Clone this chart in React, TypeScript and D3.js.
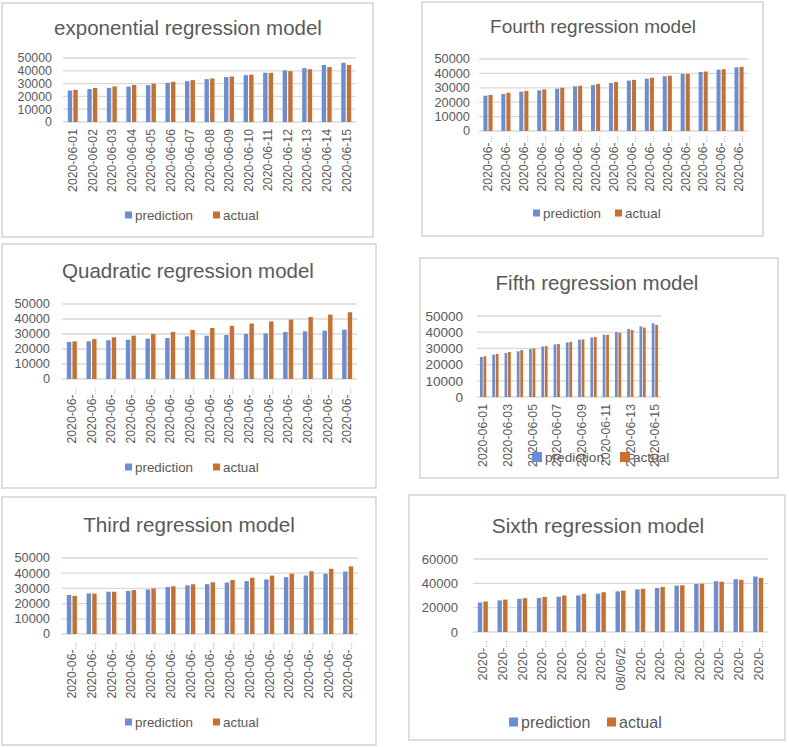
import React from "react";
import * as d3 from "d3";

const dates = [
  "2020-06-01", "2020-06-02", "2020-06-03", "2020-06-04", "2020-06-05",
  "2020-06-06", "2020-06-07", "2020-06-08", "2020-06-09", "2020-06-10",
  "2020-06-11", "2020-06-12", "2020-06-13", "2020-06-14", "2020-06-15",
];
const actual = [25100, 26600, 27800, 28900, 30000, 31400, 32700, 34000, 35500, 37000, 38400, 39700, 41300, 42900, 44500];
const expPred = [24600, 25700, 26700, 27700, 28800, 30600, 31900, 33500, 35100, 36600, 38500, 40300, 42100, 44500, 46300];
const fourthPred = [24500, 25700, 27300, 28200, 29400, 31000, 31900, 33300, 35000, 36300, 38000, 39600, 41000, 42600, 44200];
const quadPred = [24700, 25100, 25800, 26200, 26900, 27300, 28400, 28900, 29300, 30000, 30400, 31300, 31800, 32200, 32900];
const fifthPred = [24700, 26100, 27200, 28200, 29600, 31100, 32500, 33700, 35400, 36800, 38500, 40100, 42000, 43600, 45500];
const thirdPred = [25700, 26700, 27800, 28300, 29300, 30900, 32000, 32800, 33900, 34800, 35900, 37400, 38500, 39600, 41100];
const sixthPred = [24300, 26000, 27300, 27900, 29000, 30100, 31500, 33400, 35100, 36200, 38100, 39500, 41700, 43400, 45600];

const ticks50 = [0, 10000, 20000, 30000, 40000, 50000];
const ticks60 = [0, 20000, 40000, 60000];
const seriesNames = ["prediction", "actual"];
const titles = [
  "exponential regression model",
  "Fourth regression model",
  "Quadratic regression model",
  "Fifth regression model",
  "Third regression model",
  "Sixth regression model",
];
const fullLabels = dates;
const truncLabels = dates.map(() => "2020-06-…");
const fifthLabels = dates.map((d, i) => (i % 2 === 0 ? d : ""));
const sixthLabels = dates.map((d, i) => (i === 7 ? "08/06/2…" : "2020-…"));

const BLUE = "#6a8ed3";
const ORANGE = "#c9702f";
const TEXT = "#595959";
const GRID = "#d9d9d9";
const FONT = "'Liberation Sans', Arial, sans-serif";

type Cfg = {
  border: [number, number, number, number];
  title: string;
  titleX: number;
  titleY: number;
  titleSize: number;
  left: number;
  right: number;
  top: number;
  bottom: number;
  yTicks: number[];
  yLabelRight: number;
  yLabelSize: number;
  pred: number[];
  act: number[];
  labels: string[];
  labelTop: number;
  labelSize: number;
  legendY: number;
  legendX: [number, number];
  legendSq: number;
  legendSize: number;
};

function Panel({ c }: { c: Cfg }) {
  const x = d3.scaleBand<string>().domain(dates).range([c.left, c.right]).padding(0);
  const yMax = c.yTicks[c.yTicks.length - 1];
  const y = d3.scaleLinear().domain([0, yMax]).range([c.bottom, c.top]);
  const bw = x.bandwidth() / 4.46;
  const gap = bw * 0.27;
  const [bx, by, bwid, bh] = c.border;
  return (
    <g>
      <rect x={bx} y={by} width={bwid} height={bh} fill="#fff" stroke="#d3d3d3" strokeWidth={1.5} />
      <text x={c.titleX} y={c.titleY} textAnchor="middle" fontSize={c.titleSize} fill={TEXT} fontFamily={FONT}>
        {c.title}
      </text>
      {c.yTicks.map((t) => (
        <g key={t}>
          <line x1={c.left} x2={c.right} y1={y(t)} y2={y(t)} stroke={GRID} strokeWidth={1.3} />
          <text x={c.yLabelRight} y={y(t)} dy="0.35em" textAnchor="end" fontSize={c.yLabelSize} fill={TEXT} fontFamily={FONT}>
            {t}
          </text>
        </g>
      ))}
      {dates.map((d, i) => {
        const cx = (x(d) as number) + x.bandwidth() / 2;
        return (
          <g key={d}>
            <rect x={cx - gap / 2 - bw} y={y(c.pred[i])} width={bw} height={y(0) - y(c.pred[i])} fill={BLUE} />
            <rect x={cx + gap / 2} y={y(c.act[i])} width={bw} height={y(0) - y(c.act[i])} fill={ORANGE} />
          </g>
        );
      })}
      {dates.map((d, i) => {
        const cx = (x(d) as number) + x.bandwidth() / 2;
        const lab = c.labels[i];
        if (!lab) return null;
        const trunc = lab.endsWith("…");
        const base = trunc ? lab.slice(0, -1) : lab;
        return (
          <text
            key={"l" + d}
            transform={`translate(${cx},${c.labelTop}) rotate(-90)`}
            dy="0.35em"
            textAnchor="end"
            fontSize={c.labelSize}
            fill={TEXT}
            fontFamily={FONT}
          >
            {base}
            {trunc ? <tspan fontSize={c.labelSize * 0.6}>…</tspan> : null}
          </text>
        );
      })}
      {seriesNames.map((s, k) => (
        <g key={s}>
          <rect
            x={c.legendX[k]}
            y={c.legendY - c.legendSq / 2}
            width={c.legendSq}
            height={c.legendSq}
            fill={k === 0 ? BLUE : ORANGE}
          />
          <text
            x={c.legendX[k] + c.legendSq + 3}
            y={c.legendY}
            dy="0.35em"
            fontSize={c.legendSize}
            fill={TEXT}
            fontFamily={FONT}
          >
            {s}
          </text>
        </g>
      ))}
    </g>
  );
}

const panels: Cfg[] = [
  {
    border: [2, 3, 371, 234], title: titles[0], titleX: 188, titleY: 35, titleSize: 20.5,
    left: 63, right: 356, top: 58, bottom: 122, yTicks: ticks50, yLabelRight: 52, yLabelSize: 12.4,
    pred: expPred, act: actual, labels: fullLabels, labelTop: 129, labelSize: 12.3,
    legendY: 215, legendX: [125, 213], legendSq: 7, legendSize: 13.4,
  },
  {
    border: [422, 2, 341, 234], title: titles[1], titleX: 593, titleY: 33, titleSize: 19,
    left: 479, right: 748, top: 59, bottom: 131, yTicks: ticks50, yLabelRight: 470, yLabelSize: 12.8,
    pred: fourthPred, act: actual, labels: truncLabels, labelTop: 135, labelSize: 12.3,
    legendY: 213, legendX: [533, 615], legendSq: 7, legendSize: 13.4,
  },
  {
    border: [2, 244, 374, 244], title: titles[2], titleX: 188, titleY: 278, titleSize: 20.5,
    left: 62, right: 357, top: 304, bottom: 379, yTicks: ticks50, yLabelRight: 50, yLabelSize: 12.8,
    pred: quadPred, act: actual, labels: truncLabels, labelTop: 387, labelSize: 12.3,
    legendY: 467, legendX: [125, 213], legendSq: 7, legendSize: 13.4,
  },
  {
    border: [420, 258, 358, 220], title: titles[3], titleX: 597, titleY: 290, titleSize: 20.5,
    left: 477, right: 661, top: 316, bottom: 397, yTicks: ticks50, yLabelRight: 463, yLabelSize: 13.5,
    pred: fifthPred, act: actual, labels: fifthLabels, labelTop: 404, labelSize: 12.3,
    legendY: 457, legendX: [532, 620], legendSq: 10, legendSize: 13.6,
  },
  {
    border: [2, 497, 374, 248], title: titles[4], titleX: 189, titleY: 532, titleSize: 20.7,
    left: 62, right: 358, top: 558, bottom: 634, yTicks: ticks50, yLabelRight: 50, yLabelSize: 12.8,
    pred: thirdPred, act: actual, labels: truncLabels, labelTop: 642, labelSize: 12.3,
    legendY: 722, legendX: [125, 213], legendSq: 7, legendSize: 13.4,
  },
  {
    border: [409, 495, 376, 245], title: titles[5], titleX: 598, titleY: 533, titleSize: 20.9,
    left: 473, right: 768, top: 559, bottom: 632, yTicks: ticks60, yLabelRight: 458, yLabelSize: 13,
    pred: sixthPred, act: actual, labels: sixthLabels, labelTop: 640, labelSize: 12.8,
    legendY: 722, legendX: [509, 607], legendSq: 9, legendSize: 16,
  },
];

export default function App() {
  return (
    <svg
      width={789}
      height={747}
      style={{ position: "absolute", left: 0, top: 0, background: "#fff" }}
    >
      <rect x={0} y={0} width={789} height={747} fill="#fff" />
      {panels.map((p, i) => (
        <Panel key={i} c={p} />
      ))}
    </svg>
  );
}
